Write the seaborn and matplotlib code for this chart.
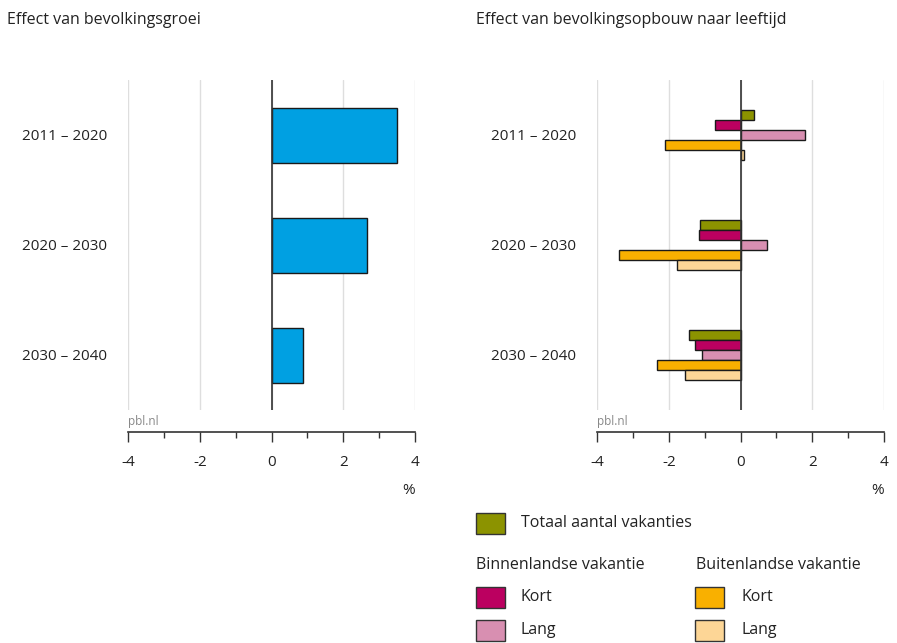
import matplotlib
matplotlib.use("Agg")
import matplotlib.pyplot as plt
from matplotlib.patches import Rectangle
from matplotlib.ticker import MultipleLocator
import pandas as pd
import seaborn as sns

# Periods shown on the vertical axis
periods = ["2011 – 2020", "2020 – 2030", "2030 – 2040"]

# Effect of population growth (%)
growth_effect = [3.5, 2.67, 0.87]

# Effect of the population's age structure (%), per holiday type
series_names = ["Totaal aantal vakanties", "Binnenlands kort", "Binnenlands lang",
                "Buitenlands kort", "Buitenlands lang"]
totaal = [0.37, -1.13, -1.43]
binnen_kort = [-0.71, -1.15, -1.27]
binnen_lang = [1.8, 0.74, -1.07]
buiten_kort = [-2.1, -3.4, -2.32]
buiten_lang = [0.1, -1.77, -1.54]

x_ticks = [-4, -2, 0, 2, 4]

colors = {
    "Totaal aantal vakanties": "#8c9300",
    "Binnenlands kort": "#bb0060",
    "Binnenlands lang": "#d88fb1",
    "Buitenlands kort": "#f9b000",
    "Buitenlands lang": "#fdd696",
}
blue = "#00a0e2"

sns.set_theme(style="white")
plt.rcParams["font.family"] = ["Open Sans", "DejaVu Sans"]

W, H = 897, 643
fig = plt.figure(figsize=(W / 100, H / 100), dpi=100)


def fx(px):
    return px / W


def fy(py):
    return 1 - py / H


ax_top, ax_bot = 80, 410
axL = fig.add_axes([fx(128), fy(ax_bot), fx(415) - fx(128), (ax_bot - ax_top) / H])
axR = fig.add_axes([fx(597), fy(ax_bot), fx(884) - fx(597), (ax_bot - ax_top) / H])

# Left panel: population growth
df_left = pd.DataFrame({"periode": periods, "effect": growth_effect})
sns.barplot(data=df_left, x="effect", y="periode", orient="h", color=blue,
            width=0.5, edgecolor="#1a1a1a", linewidth=1, saturation=1, ax=axL)

# Right panel: age structure
rows = []
for name, vals in zip(series_names, [totaal, binnen_kort, binnen_lang, buiten_kort, buiten_lang]):
    for p, v in zip(periods, vals):
        rows.append({"periode": p, "reeks": name, "effect": v})
df_right = pd.DataFrame(rows)
sns.barplot(data=df_right, x="effect", y="periode", hue="reeks", hue_order=series_names,
            orient="h", palette=colors, width=0.455, gap=0, edgecolor="#1a1a1a",
            linewidth=1, saturation=1, legend=False, ax=axR)

for ax in (axL, axR):
    ax.set_xlim(-4, 4)
    ax.set_ylim(2.5, -0.5)
    ax.set_xlabel("")
    ax.set_ylabel("")
    ax.set_xticks(x_ticks)
    ax.set_xticklabels([str(t) for t in x_ticks])
    ax.xaxis.set_minor_locator(MultipleLocator(1))
    ax.grid(axis="x", which="major", color="#dedede", linewidth=1)
    ax.set_axisbelow(True)
    ax.axvline(0, color="#333333", linewidth=1.2, zorder=5)
    for s in ("top", "right", "left"):
        ax.spines[s].set_visible(False)
    ax.spines["bottom"].set_position(("outward", 16))
    ax.spines["bottom"].set_color("#333333")
    ax.spines["bottom"].set_linewidth(1.2)
    ax.tick_params(axis="x", which="major", direction="out", length=7.5, width=1,
                   color="#333333", labelsize=11, labelcolor="#222222", pad=9, bottom=True)
    ax.tick_params(axis="x", which="minor", direction="out", length=4, width=1,
                   color="#333333", bottom=True)
    ax.tick_params(axis="y", length=0, labelsize=11, labelcolor="#222222", pad=15)

# Titles
fig.text(fx(7), fy(20), "Effect van bevolkingsgroei", fontsize=11.5,
         color="#222222", va="center", ha="left")
fig.text(fx(476), fy(20), "Effect van bevolkingsopbouw naar leeftijd", fontsize=11.5,
         color="#222222", va="center", ha="left")

# Source and unit labels
for left, right in ((128, 415), (597, 884)):
    fig.text(fx(left), fy(422), "pbl.nl", fontsize=8.5, color="#888888",
             va="center", ha="left")
    fig.text(fx(right), fy(491), "%", fontsize=11, color="#222222",
             va="center", ha="right")

# Legend
def legend_patch(x, y, color):
    fig.patches.append(Rectangle((fx(x), fy(y + 21)), 29 / W, 21 / H,
                                 transform=fig.transFigure, facecolor=color,
                                 edgecolor="#333333", linewidth=1))

legend_patch(476, 513, colors["Totaal aantal vakanties"])
fig.text(fx(521), fy(523), "Totaal aantal vakanties", fontsize=11.5, color="#222222",
         va="center", ha="left")
fig.text(fx(476), fy(565), "Binnenlandse vakantie", fontsize=11.5, color="#222222",
         va="center", ha="left")
fig.text(fx(696), fy(565), "Buitenlandse vakantie", fontsize=11.5, color="#222222",
         va="center", ha="left")
legend_patch(476, 587, colors["Binnenlands kort"])
fig.text(fx(521), fy(597), "Kort", fontsize=11.5, color="#222222", va="center", ha="left")
legend_patch(476, 620, colors["Binnenlands lang"])
fig.text(fx(521), fy(630), "Lang", fontsize=11.5, color="#222222", va="center", ha="left")
legend_patch(695, 587, colors["Buitenlands kort"])
fig.text(fx(741), fy(597), "Kort", fontsize=11.5, color="#222222", va="center", ha="left")
legend_patch(695, 620, colors["Buitenlands lang"])
fig.text(fx(741), fy(630), "Lang", fontsize=11.5, color="#222222", va="center", ha="left")

fig.savefig("out.png", dpi=100, facecolor="white")
